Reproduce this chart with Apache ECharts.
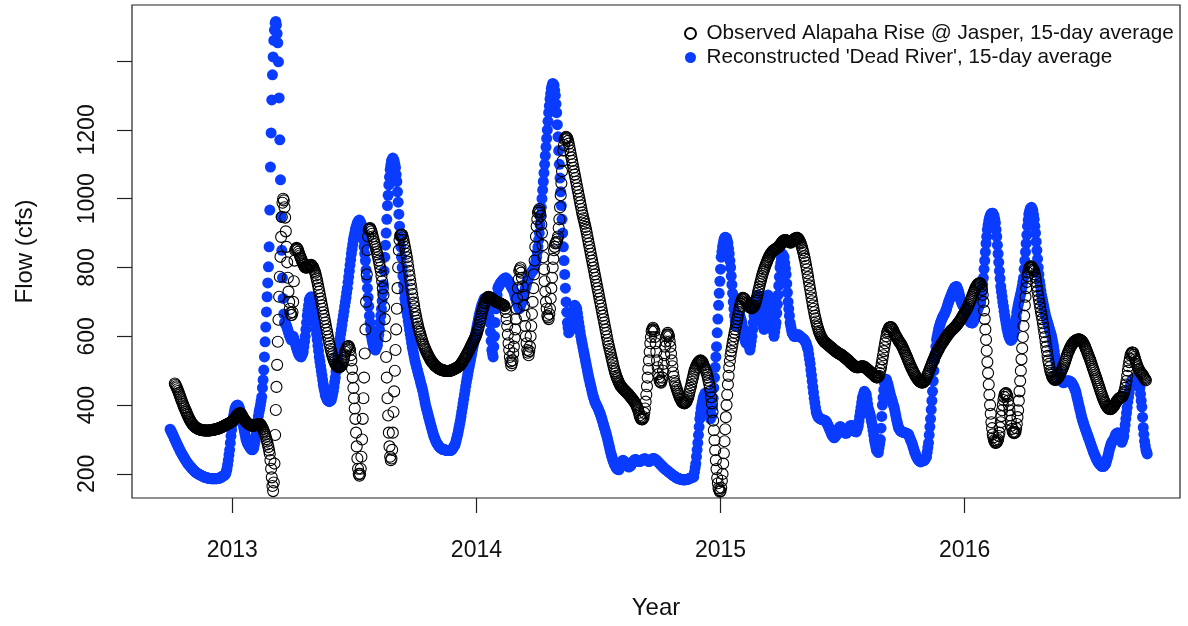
<!DOCTYPE html>
<html>
<head>
<meta charset="utf-8">
<style>
  html, body { margin: 0; padding: 0; background: #fff; }
  #container { width: 1188px; height: 626px; }
</style>
<script src="https://cdn.jsdelivr.net/npm/echarts@6.0.0/dist/echarts.min.js"></script>
</head>
<body>
<div id="container"></div>
<script>
// daily 15-day average flow (cfs); day numbers count from 1 Jan 2013 = 0
var reconStart2012 = -93;
var reconFlow2012 = [330,326,322,318,314,310,305,301,297,292,288,284,280,276,272,268,264,260,257,254,250,247,244,240,237,234,231,229,226,224,222,220,217,215,213,211,209,207,205,204,203,201,200,199,198,197,196,195,194,193,192,191,191,190,189,189,188,188,187,187,187,186,186,186,186,186,186,186,186,186,186,187,187,188,188,189,190,191,193,194,195,196,198,200,207,215,227,240,255,270,290,310,328];
var reconFlow2013 = [345,358,370,380,390,394,398,399,400,398,395,388,380,370,360,352,345,335,325,315,305,298,292,288,285,281,278,275,272,271,270,272,275,285,295,310,325,340,355,368,380,390,400,412,424,450,473,502,540,584,627,671,715,755,802,860,967,1092,1191,1287,1360,1412,1460,1490,1511,1515,1505,1480,1453,1398,1293,1171,1055,947,850,770,710,665,640,638,635,630,625,618,612,605,600,595,590,593,597,600,593,587,580,573,567,560,555,550,545,543,541,540,545,550,555,570,585,600,620,640,660,675,690,705,710,713,715,707,698,690,673,657,640,623,607,590,573,557,540,527,513,500,487,473,460,450,440,430,425,420,415,413,412,410,412,413,415,423,432,440,453,467,480,497,513,530,547,563,580,593,607,620,633,647,660,673,687,700,713,727,740,757,773,790,807,823,840,853,867,880,890,900,910,917,923,930,933,936,938,934,930,925,910,895,880,860,840,820,793,767,740,713,687,660,640,620,600,590,580,570,567,563,560,565,570,575,590,605,620,640,660,680,703,727,750,790,830,865,900,940,980,1010,1040,1063,1085,1098,1110,1114,1118,1114,1110,1100,1090,1070,1050,1020,990,955,920,890,860,830,800,775,750,730,710,697,683,670,658,645,633,620,607,595,582,570,560,550,540,530,522,515,507,500,492,485,478,470,462,455,448,440,430,420,410,400,392,385,377,370,362,355,347,340,333,326,319,312,307,302,297,292,289,286,283,280,278,276,275,273,272,271,271,270,270,269,269,268,268,268,268,268,268,269,270,272,275,278,282,285,292,300,307,315,325,335,345,355,367,380,392,405,417,430,442,455,467,478,489,500,510,520,530,540,550,560,570,580,590,600,610];
var reconFlow2014 = [620,630,640,650,660,668,675,683,690,695,700,705,710,708,705,703,700,685,670,655,640,613,587,560,550,540,570,600,640,680,700,720,740,744,748,751,755,757,760,762,765,766,768,769,770,768,765,763,760,756,752,749,745,741,738,734,730,722,715,708,700,695,690,685,680,685,690,695,700,708,715,723,730,738,745,753,760,765,770,775,780,783,785,788,790,793,797,800,810,820,830,845,860,880,900,925,950,975,1000,1025,1050,1075,1100,1125,1150,1175,1200,1225,1250,1270,1290,1305,1320,1328,1335,1333,1330,1315,1300,1275,1250,1215,1180,1140,1100,1060,1020,980,940,900,860,820,780,740,700,670,640,625,610,613,617,620,633,647,660,670,680,690,687,683,680,667,653,640,627,613,600,590,580,570,560,550,540,530,520,510,500,490,480,472,463,455,447,438,430,423,417,410,406,402,398,394,390,385,380,375,370,363,357,350,343,337,330,323,317,310,302,293,285,277,268,260,253,247,240,235,230,225,222,218,215,214,213,212,216,220,225,230,235,240,238,237,235,232,228,225,223,222,220,222,223,225,228,232,235,237,240,242,241,241,240,239,237,236,236,237,238,239,241,242,243,243,244,243,241,240,239,237,236,237,239,240,242,243,245,244,244,243,241,240,238,236,234,232,230,228,226,224,222,220,218,216,214,213,211,210,208,207,205,203,202,200,199,197,196,195,193,192,191,189,188,187,187,186,185,185,184,184,183,183,183,183,183,183,184,184,185,185,186,187,188,189,190,190,191,192,205,218,230,250,270,290,313,337,360,375,390,400,410,420,425,430,435,430,425,420,408,397,385,372,360,365,370,395,420,450,480,510,540,570,610,650,690,725,760];
var reconFlow2015 = [795,830,845,860,870,880,885,888,887,885,878,870,855,840,820,800,775,750,725,700,680,660,645,630,633,637,640,647,653,660,653,647,640,627,613,600,593,587,580,583,587,590,580,570,560,573,587,600,620,640,660,673,687,700,707,713,720,710,700,690,673,657,640,633,627,620,633,647,660,680,700,720,713,707,700,680,660,640,627,613,600,613,627,640,667,693,720,747,773,800,813,827,840,837,833,830,813,797,780,753,727,700,680,660,640,630,620,610,607,603,600,600,600,600,602,603,605,603,602,600,598,597,595,593,592,590,587,583,580,573,567,560,547,533,520,503,487,470,453,437,420,407,393,380,375,370,365,363,362,360,359,359,358,357,357,356,355,354,352,348,344,340,335,330,325,321,316,312,310,307,305,307,310,312,318,324,330,333,335,338,335,333,330,327,323,320,319,319,318,320,323,325,330,335,340,340,340,340,335,330,325,324,323,322,328,334,340,353,367,380,393,407,420,427,433,440,437,433,430,417,403,390,383,377,370,360,350,340,327,313,300,290,280,270,267,265,262,275,287,300,333,367,400,422,444,465,468,472,475,468,462,455,447,438,430,423,417,410,403,397,390,380,370,360,352,343,335,332,328,325,324,323,322,321,321,320,319,319,318,317,316,315,310,305,300,295,290,285,278,272,265,260,255,250,247,243,240,238,237,235,236,237,238,239,239,240,243,247,250,263,277,290,313,337,360,387,413,440,470,500,530,550,570,590,600,610,620,627,633,640,645,650,655,658,662,665,670,675,680,687,693,700,705,710,715,720,725,730,734,738,742,743,744,745,740,735,730,722,713,705,700,695,690,688,687];
var reconFlow2016 = [686,680,675,670,663,657,650,647,643,640,640,639,639,643,647,650,657,663,670,675,681,686,690,695,700,715,730,750,770,795,820,845,870,890,910,923,935,943,950,954,957,958,958,954,950,940,930,910,890,865,840,815,790,768,745,730,715,700,687,673,660,648,637,625,617,608,600,596,592,588,590,592,595,605,615,625,640,655,670,680,690,700,708,717,725,735,745,758,770,795,820,845,870,895,920,938,955,963,970,973,975,970,965,953,940,920,900,875,850,825,800,780,760,747,733,720,710,700,690,680,670,660,653,647,640,633,627,620,613,607,600,590,580,570,557,543,530,520,510,500,493,487,480,477,473,470,468,467,465,467,468,470,470,470,470,470,470,470,468,467,465,462,458,455,450,445,440,432,423,415,407,398,390,382,373,365,358,352,345,339,334,328,323,317,312,306,301,295,289,284,278,273,267,262,257,253,248,244,240,236,233,231,228,226,224,222,222,222,222,225,227,230,237,243,250,258,267,275,281,287,292,295,297,300,305,310,315,317,318,320,315,310,305,300,296,292,298,304,310,327,343,360,377,393,410,423,437,450,457,465,472,474,476,478,475,473,470,467,465,462,458,454,450,432,413,395,365,335,315,295,282,270,264,258];

var obsStart2012 = -86;
var obsFlow2012 = [463,459,455,451,446,441,436,431,425,420,414,409,404,399,394,390,385,381,376,372,367,363,359,356,352,349,346,344,341,339,337,336,334,333,332,331,330,329,329,328,328,327,327,327,326,326,326,326,326,326,326,326,326,327,327,327,328,328,328,329,329,330,330,331,331,332,333,333,334,335,336,337,338,339,340,341,342,343,344,345,346,347,348,349,350,352];
var obsFlow2013 = [353,355,357,360,362,365,367,370,372,374,375,376,377,375,372,368,364,361,358,355,353,350,348,347,345,344,343,342,341,340,340,340,340,341,341,342,343,343,344,345,345,345,344,341,338,334,330,325,320,314,308,301,294,286,278,268,258,240,215,190,165,150,175,230,313,386,453,517,584,648,715,773,831,889,947,988,1000,995,975,945,905,860,815,770,730,700,680,668,662,662,670,700,760,820,850,854,857,855,852,846,840,835,830,825,820,815,810,807,803,800,800,800,800,802,803,805,806,807,808,805,803,800,795,790,785,777,768,760,750,740,730,720,710,700,690,680,670,660,650,640,630,620,610,600,590,580,572,563,555,548,542,535,530,525,520,517,515,512,511,510,510,511,513,515,520,525,530,538,547,555,560,565,570,571,572,566,560,545,530,505,480,450,420,390,360,320,280,245,215,200,195,200,215,250,300,360,420,480,550,620,700,780,850,890,910,913,915,910,905,898,890,883,875,868,860,853,845,838,830,820,810,800,790,775,760,740,720,685,650,600,540,480,420,370,320,280,250,240,245,270,320,380,440,500,560,620,680,740,800,850,880,893,895,895,895,888,880,870,860,850,840,830,817,803,790,777,763,750,737,723,710,698,687,675,665,655,645,637,628,620,613,607,600,593,587,580,575,570,565,561,556,552,548,544,540,537,533,530,527,525,522,520,517,515,513,512,510,509,507,506,505,504,503,502,502,501,501,500,500,500,499,499,499,499,499,500,500,501,501,502,503,504,505,506,507,508,509,510,512,513,515,517,520,522,525,528,532,535,538,542,545,549,552,556,560,564,568,572,576,580,584,588,592,596,600];
var obsFlow2014 = [605,612,618,625,633,642,650,658,667,675,682,688,695,700,705,710,712,714,715,714,713,712,711,710,708,706,705,703,702,701,700,699,699,698,697,696,695,694,693,692,691,690,688,680,670,650,630,605,580,560,540,527,515,522,530,550,570,595,620,650,680,710,740,765,790,795,800,785,770,745,720,690,660,630,600,580,560,552,545,557,570,600,630,665,700,740,780,820,860,890,920,940,960,965,970,960,950,925,900,865,830,795,760,730,700,680,660,655,650,665,680,710,740,770,800,825,850,860,870,872,875,882,890,915,940,975,1010,1045,1080,1110,1140,1156,1172,1176,1180,1178,1175,1168,1160,1150,1140,1130,1120,1110,1100,1090,1080,1070,1060,1050,1040,1030,1020,1010,1000,990,980,970,960,952,943,935,927,918,910,900,890,880,870,860,850,840,830,820,810,800,790,780,770,760,750,740,730,720,710,700,690,680,670,660,650,640,630,620,610,600,590,580,572,563,555,547,538,530,522,513,505,498,492,485,480,475,470,466,462,458,455,453,450,448,446,444,442,440,438,436,434,432,430,427,425,423,420,418,415,413,410,407,403,400,395,390,385,378,370,365,360,359,358,361,365,377,390,410,430,455,480,505,530,555,580,598,615,620,625,620,615,598,580,555,530,510,490,480,470,467,465,472,480,500,520,545,570,585,600,605,610,605,600,585,570,550,530,513,495,483,470,463,457,450,444,438,432,427,423,418,415,411,408,407,406,405,406,408,410,415,420,425,433,442,450,458,467,475,483,492,500,505,510,515,518,522,525,527,528,530,528,527,525,520,515,510,505,500,495,488,480,471,462,451,440,423,405,380,355,327,298,269,240,214,188,173,158,153,148];
var obsFlow2015 = [150,160,180,200,230,260,295,330,365,400,430,460,485,510,528,545,557,568,580,590,600,610,620,630,640,650,660,670,678,687,695,701,707,712,711,710,708,705,701,698,695,691,688,686,684,682,682,682,682,685,687,690,697,703,710,718,727,735,743,752,760,767,775,782,788,794,800,805,810,815,820,825,830,833,837,840,843,845,848,849,851,852,853,855,856,857,859,860,863,865,868,871,873,876,877,879,880,880,879,878,877,876,875,874,873,872,874,876,878,880,882,884,885,885,886,886,884,882,878,874,870,863,857,850,842,833,825,815,805,795,783,772,760,748,737,725,713,702,690,680,670,660,652,643,635,628,622,615,610,605,600,597,593,590,588,585,583,581,580,578,576,575,573,571,570,568,566,565,563,561,560,558,557,555,554,553,551,550,549,548,547,546,544,543,541,540,538,536,535,533,531,530,528,526,524,522,520,519,517,515,514,512,511,510,510,510,510,510,511,511,512,512,513,513,512,511,510,508,507,505,503,502,500,498,497,495,493,492,490,488,486,484,482,481,480,482,483,485,493,502,510,522,533,545,557,568,580,590,600,610,615,620,625,626,626,627,624,621,618,614,609,605,602,598,595,592,588,585,582,580,577,573,569,565,561,556,552,547,543,538,533,529,524,519,515,510,506,502,498,494,491,487,484,481,478,475,472,470,469,467,466,466,466,466,468,470,472,476,481,485,490,495,500,505,510,515,520,525,530,534,539,543,547,551,555,559,562,566,569,573,576,579,582,585,588,591,594,597,599,602,605,607,610,612,615,617,619,620,622,624,626,628,630,632,635,638,640,643,646,649,652,655,659,662,665];
var obsFlow2016 = [668,672,676,679,683,687,692,696,701,705,710,715,720,725,730,735,740,743,747,750,752,753,755,754,752,745,735,720,700,675,650,620,590,558,525,493,460,430,400,375,350,333,315,306,298,294,290,291,292,296,300,310,320,335,350,368,385,400,415,424,432,434,435,430,425,413,400,385,370,355,340,331,322,320,318,320,322,333,345,365,385,413,440,470,500,533,565,598,630,660,690,715,740,758,775,785,795,799,803,803,803,799,795,793,790,780,770,758,745,732,718,707,695,684,672,661,650,638,625,612,598,584,570,557,543,530,520,510,500,494,488,482,479,477,474,474,474,474,476,478,480,484,488,492,496,501,505,510,515,520,526,532,538,544,550,555,559,564,568,571,575,578,580,583,585,586,588,589,590,590,591,591,590,590,588,587,585,582,578,575,570,565,560,555,550,545,540,535,530,524,518,512,506,501,495,489,484,478,472,466,460,454,448,442,436,431,425,420,415,410,406,402,398,395,393,390,389,389,388,389,390,392,395,397,400,403,407,410,413,415,418,419,421,422,423,424,425,430,435,440,450,460,470,485,500,513,525,535,545,549,553,553,552,546,540,533,527,520,515,510,505,502,498,495,493,490,488,485,481,478,475,472];

var yearTicks = [0, 365, 730, 1095];
var yearLabels = ['2013', '2014', '2015', '2016'];
var flowTicks = [200, 400, 600, 800, 1000, 1200, 1400];
var flowLabels = [200, 400, 600, 800, 1000, 1200];

var obsName = 'Observed Alapaha Rise @ Jasper, 15-day average';
var reconName = "Reconstructed 'Dead River', 15-day average";

// [day, cfs] pairs for consecutive days starting at `start`
function toPoints(start, values) {
    return values.map(function (v, i) { return [start + i, v]; });
}

var reconData = [].concat(
    toPoints(reconStart2012, reconFlow2012),
    toPoints(0, reconFlow2013),
    toPoints(365, reconFlow2014),
    toPoints(730, reconFlow2015),
    toPoints(1095, reconFlow2016)
);
var obsData = [].concat(
    toPoints(obsStart2012, obsFlow2012),
    toPoints(0, obsFlow2013),
    toPoints(365, obsFlow2014),
    toPoints(730, obsFlow2015),
    toPoints(1095, obsFlow2016)
);

var font = "'Liberation Sans', Arial, Helvetica, sans-serif";
var myChart = echarts.init(document.getElementById('container'));

var option = {
    animation: false,
    textStyle: { fontFamily: font, color: '#111' },
    grid: {
        left: 132, right: 8, top: 5, bottom: 128,
        show: true, borderColor: '#222', borderWidth: 1.2, backgroundColor: '#fff'
    },
    legend: {
        orient: 'vertical',
        left: 679, top: 18,
        itemWidth: 22, itemHeight: 11, itemGap: 3,
        icon: 'circle',
        data: [obsName, reconName],
        textStyle: { fontFamily: font, fontSize: 20.7, color: '#111', lineHeight: 21 }
    },
    xAxis: {
        type: 'value',
        min: -150, max: 1417,
        name: 'Year', nameLocation: 'middle', nameGap: 98,
        nameTextStyle: { fontFamily: font, fontSize: 24, color: '#111' },
        axisLine: { show: false, onZero: false },
        splitLine: { show: false },
        axisTick: { show: true, customValues: yearTicks, length: 15, lineStyle: { color: '#222', width: 1.2 } },
        axisLabel: {
            customValues: yearTicks, margin: 41, fontSize: 23, color: '#111', fontFamily: font,
            formatter: function (v) { return yearLabels[yearTicks.indexOf(v)]; }
        }
    },
    yAxis: {
        type: 'value',
        min: 130, max: 1563,
        name: 'Flow (cfs)', nameLocation: 'middle', nameGap: 95, nameRotate: 90,
        nameTextStyle: { fontFamily: font, fontSize: 24, color: '#111' },
        axisLine: { show: false, onZero: false },
        splitLine: { show: false },
        axisTick: { show: true, customValues: flowTicks, length: 15, lineStyle: { color: '#222', width: 1.2 } },
        axisLabel: {
            customValues: flowLabels, rotate: 90, margin: 33, fontSize: 23, color: '#111', fontFamily: font,
            formatter: function (v) { return String(v); }
        }
    },
    series: [
        {
            name: reconName,
            type: 'scatter',
            symbol: 'circle',
            symbolSize: 11,
            itemStyle: { color: '#0a3cff', opacity: 1 },
            emphasis: { disabled: true },
            data: reconData
        },
        {
            name: obsName,
            type: 'scatter',
            symbol: 'circle',
            symbolSize: 11,
            itemStyle: { color: 'rgba(0,0,0,0)', borderColor: '#000', borderWidth: 1.1, opacity: 1 },
            emphasis: { disabled: true },
            data: obsData
        }
    ]
};
myChart.setOption(option, true);
</script>
</body>
</html>
